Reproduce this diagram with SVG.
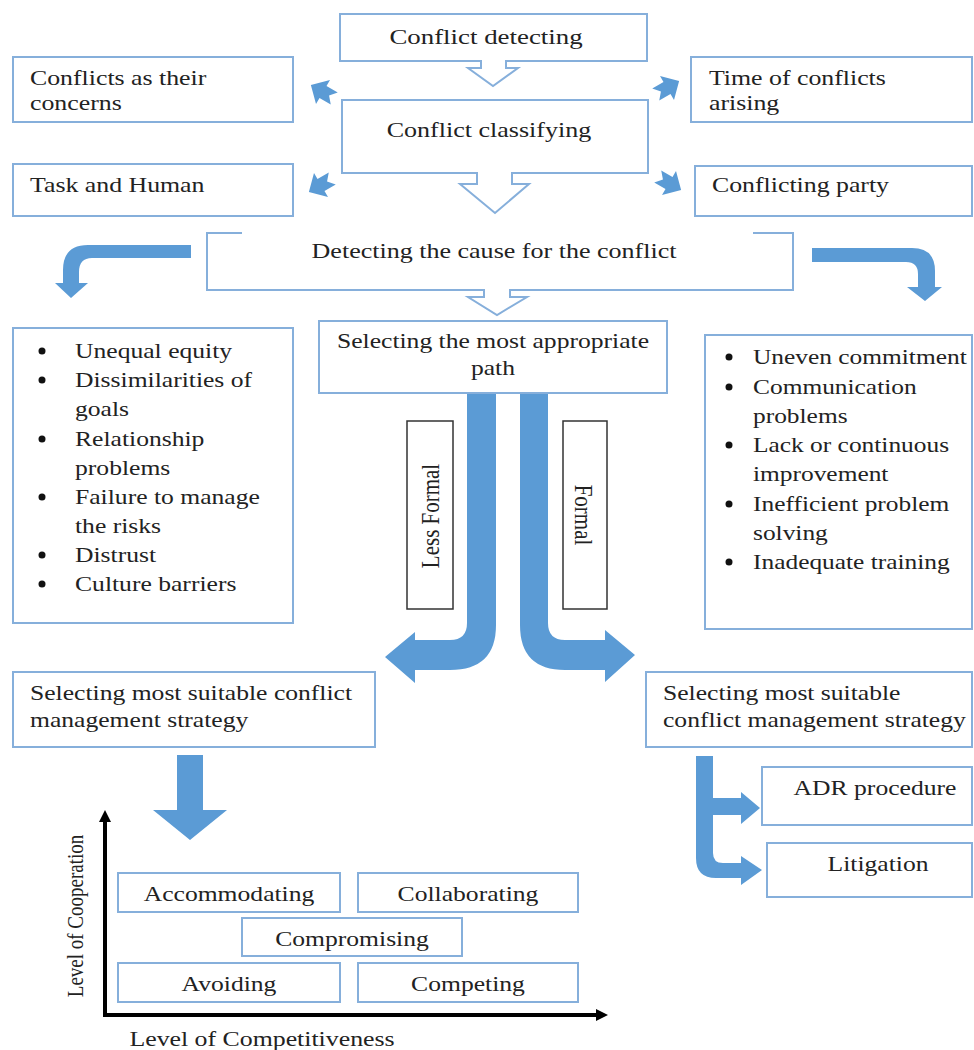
<svg xmlns="http://www.w3.org/2000/svg" width="974" height="1050" viewBox="0 0 974 1050">
<defs>
<style>
.box{fill:#fff;stroke:#86afdb;stroke-width:2}
.lbl{fill:#fff;stroke:#333;stroke-width:1.5}
.arr{fill:#5b9bd5}
.t{font-family:"Liberation Serif","Times New Roman",serif;font-size:21px;fill:#222}
.m{text-anchor:middle}
.dot{fill:#111}
.axis{stroke:#000;stroke-width:4;fill:none}
</style>
<polygon id="fan" points="-13,-7 0,-7 0,-14 14,0 0,14 0,7 -13,7 -7,0"/>
</defs>
<rect width="974" height="1050" fill="#fff"/>

<g id="connectors">
<use href="#fan" class="arr" transform="translate(323,92) rotate(210)"/>
<use href="#fan" class="arr" transform="translate(321,185) rotate(150)"/>
<use href="#fan" class="arr" transform="translate(667,88) rotate(-30)"/>
<use href="#fan" class="arr" transform="translate(669,183) rotate(30)"/>
<path class="arr" d="M191,245 H88 Q63,245 63,270 V283 H55 L71,298 L88,283 H79 V272 Q79,258 92,258 H191 Z"/>
<path class="arr" d="M812,248 H912 Q935,248 935,271 V287 H942 L925,301 L907,287 H918 V274 Q918,262 906,262 H812 Z"/>
<path class="arr" d="M467,393 H496 V625 Q496,670 450,670 H415 V683 L385,657 L415,632 V640 H450 Q467,640 467,623 Z"/>
<path class="arr" d="M520,393 H548 V623 Q548,640 565,640 H605 V630 L635,655 L605,682 V670 H565 Q520,670 520,625 Z"/>
<path class="arr" d="M177,755 H203 V810 H227 L190,840 L153,810 H177 Z"/>
<path class="arr" d="M696,756 H713 V798 H741 V792 L760,808 L741,824 V815 H713 V853 Q713,863 723,863 H741 V856 L762,870 L741,885 V878 H716 Q696,878 696,858 Z"/>
<line class="axis" x1="105" y1="1017" x2="105" y2="818"/>
<polygon points="99,822 105,810 111,822" fill="#000"/>
<line class="axis" x1="103" y1="1015" x2="598" y2="1015"/>
<polygon points="596,1009 608,1015 596,1021" fill="#000"/>
</g>

<g id="n-detecting">
<path class="box" d="M340,14 H647 V61 H506 V68 H518 L493,86 L468,68 H481 V61 H340 Z"/>
<text class="t m" transform="translate(486,44) scale(1.28,1)">Conflict detecting</text>
</g>
<g id="n-classifying">
<path class="box" d="M342,100 H648 V173 H512 V184 H529 L495,213 L460,184 H477 V173 H342 Z"/>
<text class="t m" transform="translate(489,137) scale(1.24,1)">Conflict classifying</text>
</g>
<g id="n-concerns">
<rect class="box" x="13" y="57" width="280" height="65"/>
<text class="t" transform="translate(30,85) scale(1.23,1)">Conflicts as their</text>
<text class="t" transform="translate(30,110) scale(1.23,1)">concerns</text>
</g>
<g id="n-taskhuman">
<rect class="box" x="13" y="164" width="280" height="52"/>
<text class="t" transform="translate(30,192) scale(1.23,1)">Task and Human</text>
</g>
<g id="n-time">
<rect class="box" x="691" y="57" width="281" height="65"/>
<text class="t" transform="translate(709,85) scale(1.23,1)">Time of conflicts</text>
<text class="t" transform="translate(709,110) scale(1.23,1)">arising</text>
</g>
<g id="n-party">
<rect class="box" x="695" y="166" width="277" height="50"/>
<text class="t" transform="translate(712,192) scale(1.23,1)">Conflicting party</text>
</g>
<g id="n-cause">
<path class="box" d="M242,233 H207 V290 H484 V297 H468 L497,315 L527,297 H510 V290 H793 V233 H753"/>
<text class="t m" transform="translate(494,258) scale(1.24,1)">Detecting the cause for the conflict</text>
</g>
<g id="n-path">
<rect class="box" x="319" y="321" width="348" height="72"/>
<text class="t m" transform="translate(493,348) scale(1.22,1)">Selecting the most appropriate</text>
<text class="t m" transform="translate(493,375) scale(1.22,1)">path</text>
</g>
<g id="n-causes-left">
<rect class="box" x="13" y="328" width="280" height="295"/>
<circle class="dot" cx="42" cy="351" r="3.5"/>
<circle class="dot" cx="42" cy="380" r="3.5"/>
<circle class="dot" cx="42" cy="439" r="3.5"/>
<circle class="dot" cx="42" cy="497" r="3.5"/>
<circle class="dot" cx="42" cy="555" r="3.5"/>
<circle class="dot" cx="42" cy="584" r="3.5"/>
<text class="t" transform="translate(75,358) scale(1.22,1)">Unequal equity</text>
<text class="t" transform="translate(75,387) scale(1.22,1)">Dissimilarities of</text>
<text class="t" transform="translate(75,416) scale(1.22,1)">goals</text>
<text class="t" transform="translate(75,446) scale(1.22,1)">Relationship</text>
<text class="t" transform="translate(75,475) scale(1.22,1)">problems</text>
<text class="t" transform="translate(75,504) scale(1.22,1)">Failure to manage</text>
<text class="t" transform="translate(75,533) scale(1.22,1)">the risks</text>
<text class="t" transform="translate(75,562) scale(1.22,1)">Distrust</text>
<text class="t" transform="translate(75,591) scale(1.22,1)">Culture barriers</text>
</g>
<g id="n-causes-right">
<rect class="box" x="705" y="335" width="267" height="294"/>
<circle class="dot" cx="729" cy="357" r="3.5"/>
<circle class="dot" cx="729" cy="387" r="3.5"/>
<circle class="dot" cx="729" cy="445" r="3.5"/>
<circle class="dot" cx="729" cy="504" r="3.5"/>
<circle class="dot" cx="729" cy="562" r="3.5"/>
<text class="t" transform="translate(753,364) scale(1.21,1)">Uneven commitment</text>
<text class="t" transform="translate(753,394) scale(1.21,1)">Communication</text>
<text class="t" transform="translate(753,423) scale(1.21,1)">problems</text>
<text class="t" transform="translate(753,452) scale(1.21,1)">Lack or continuous</text>
<text class="t" transform="translate(753,481) scale(1.21,1)">improvement</text>
<text class="t" transform="translate(753,511) scale(1.21,1)">Inefficient problem</text>
<text class="t" transform="translate(753,540) scale(1.21,1)">solving</text>
<text class="t" transform="translate(753,569) scale(1.21,1)">Inadequate training</text>
</g>
<g id="n-lessformal">
<rect class="lbl" x="407" y="421" width="46" height="188"/>
<text class="t m" transform="translate(439,516) scale(1.23,1) rotate(-90)">Less Formal</text>
</g>
<g id="n-formal">
<rect class="lbl" x="563" y="421" width="44" height="188"/>
<text class="t m" transform="translate(575,515) scale(1.23,1) rotate(90)">Formal</text>
</g>
<g id="n-strategy-left">
<rect class="box" x="13" y="672" width="362" height="75"/>
<text class="t" transform="translate(30,700) scale(1.22,1)">Selecting most suitable conflict</text>
<text class="t" transform="translate(30,727) scale(1.22,1)">management strategy</text>
</g>
<g id="n-strategy-right">
<rect class="box" x="646" y="672" width="326" height="75"/>
<text class="t" transform="translate(663,700) scale(1.22,1)">Selecting most suitable</text>
<text class="t" transform="translate(663,727) scale(1.22,1)">conflict management strategy</text>
</g>
<g id="n-adr">
<rect class="box" x="762" y="767" width="210" height="58"/>
<text class="t m" transform="translate(875,795) scale(1.22,1)">ADR procedure</text>
</g>
<g id="n-litigation">
<rect class="box" x="767" y="843" width="205" height="54"/>
<text class="t m" transform="translate(878,871) scale(1.22,1)">Litigation</text>
</g>
<g id="n-accommodating">
<rect class="box" x="118" y="873" width="222" height="39"/>
<text class="t m" transform="translate(229,901) scale(1.22,1)">Accommodating</text>
</g>
<g id="n-collaborating">
<rect class="box" x="358" y="873" width="220" height="39"/>
<text class="t m" transform="translate(468,901) scale(1.22,1)">Collaborating</text>
</g>
<g id="n-compromising">
<rect class="box" x="242" y="918" width="220" height="38"/>
<text class="t m" transform="translate(352,946) scale(1.22,1)">Compromising</text>
</g>
<g id="n-avoiding">
<rect class="box" x="118" y="963" width="222" height="39"/>
<text class="t m" transform="translate(229,991) scale(1.22,1)">Avoiding</text>
</g>
<g id="n-competing">
<rect class="box" x="358" y="963" width="220" height="39"/>
<text class="t m" transform="translate(468,991) scale(1.22,1)">Competing</text>
</g>
<g id="axis-labels">
<text class="t m" style="font-size:19px" transform="translate(83,916) scale(1.23,1) rotate(-90)">Level of Cooperation</text>
<text class="t m" transform="translate(262,1046) scale(1.23,1)">Level of Competitiveness</text>
</g>
</svg>
